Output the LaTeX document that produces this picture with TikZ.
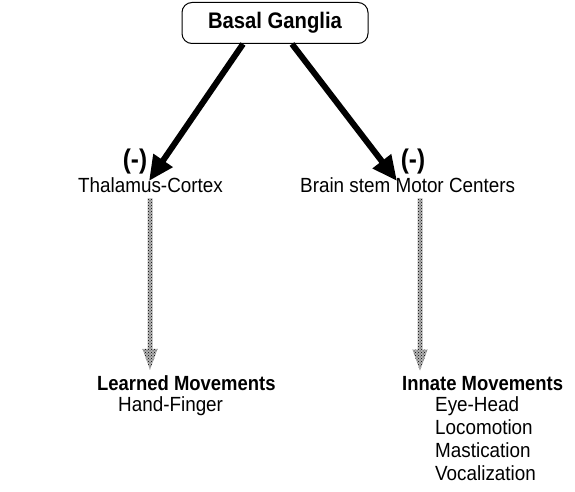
\documentclass[tikz,border=0pt]{standalone}
\usepackage{fontspec}
\setmainfont{Liberation Sans}
\newfontfamily\narrowsans[FakeStretch=0.92]{Liberation Sans}
\newfontfamily\narrowbold[FakeStretch=0.9]{Liberation Sans}
\usetikzlibrary{arrows.meta,calc,patterns}
\begin{document}
\begin{tikzpicture}[x=1pt,y=-1pt,
  lbl/.style={font=\narrowsans\fontsize{20.5}{22}\selectfont, inner sep=0pt, anchor=base west},
  bl/.style={font=\narrowbold\fontsize{20.5}{22}\selectfont\bfseries, inner sep=0pt, anchor=base west},
  neg/.style={font=\narrowbold\fontsize{27}{28}\selectfont\bfseries, inner sep=0pt, anchor=base},
  bigarrow/.style={line width=6pt, -{Triangle[length=25pt,width=22pt]}},
  dotshape/.style={fill=black!30, postaction={pattern=crosshatch dots, pattern color=black}}]
\useasboundingbox (0,0) rectangle (575,492);
\node[draw, rounded corners=10pt, line width=1pt, minimum width=186pt, minimum height=41pt,
  font=\narrowbold\fontsize{22.5}{24}\selectfont\bfseries, inner sep=0pt] (bg) at (275,23) {Basal Ganglia};
\node[neg] (negL) at (135,168) {(-)};
\node[neg] (negR) at (413,168) {(-)};
\node[lbl] (thal) at (78,192) {Thalamus-Cortex};
\node[lbl] (brain) at (300,192) {Brain stem Motor Centers};
\node[bl] (learned) at (97,390) {Learned Movements};
\node[lbl] (hand) at (118,411) {Hand-Finger};
\node[bl] (innate) at (402,390) {Innate Movements};
\node[lbl] (eye) at (435,411) {Eye-Head};
\node[lbl] (loco) at (435,434) {Locomotion};
\node[lbl] (mast) at (435,457) {Mastication};
\node[lbl] (voc) at (435,480) {Vocalization};
\coordinate (tL) at (149,181);
\coordinate (tR) at (397,181);
\coordinate (xL) at (150,0);
\coordinate (xR) at (420,0);
\draw[bigarrow] ($(bg.south)+(-32,0)$) -- (tL);
\draw[bigarrow] ($(bg.south)+(17,0)$) -- (tR);
% patterned arrows from label to label
\coordinate (aL1) at ($(thal.south -| xL)+(0,6)$);
\coordinate (aL2) at ($(learned.north -| xL)+(0,-5)$);
\coordinate (aR1) at ($(brain.south -| xR)+(0,6)$);
\coordinate (aR2) at ($(innate.north -| xR)+(0,-5)$);
\path[dotshape] ($(aL1)+(-2.5,0)$) -- ($(aL2)+(-2.5,-21)$) -- ($(aL2)+(-7.5,-21)$) -- (aL2)
  -- ($(aL2)+(7.5,-21)$) -- ($(aL2)+(2.5,-21)$) -- ($(aL1)+(2.5,0)$) -- cycle;
\path[dotshape] ($(aR1)+(-2.5,0)$) -- ($(aR2)+(-2.5,-21)$) -- ($(aR2)+(-7.5,-21)$) -- (aR2)
  -- ($(aR2)+(7.5,-21)$) -- ($(aR2)+(2.5,-21)$) -- ($(aR1)+(2.5,0)$) -- cycle;
\end{tikzpicture}
\end{document}
